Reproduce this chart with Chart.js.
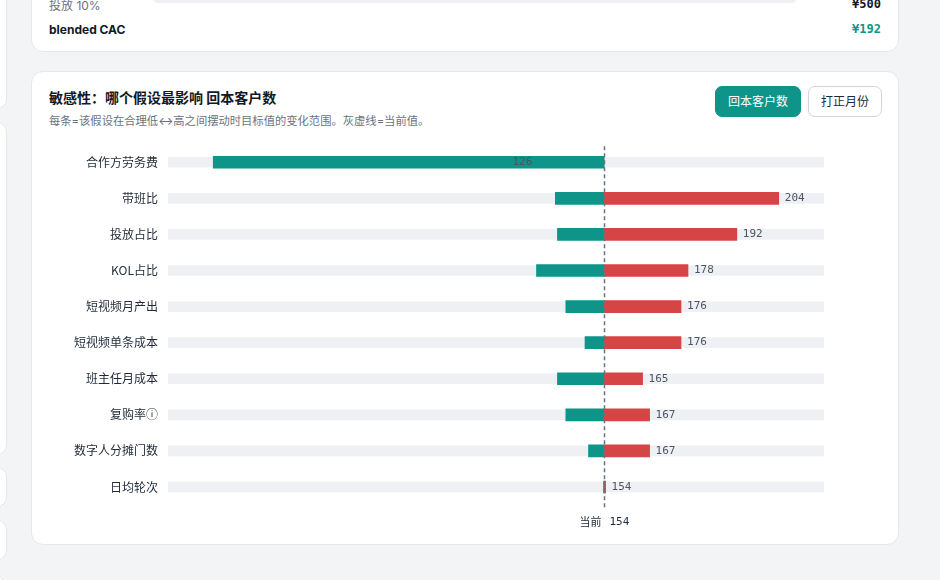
<!DOCTYPE html>
<html>
<head>
<meta charset="utf-8">
<script src="https://cdn.jsdelivr.net/npm/chart.js@4.4.1/dist/chart.umd.min.js"></script>
<style>
  * { box-sizing: border-box; }
  body { margin: 0; width: 940px; height: 580px; overflow: hidden; background: #f3f4f6;
         font-family: Inter, "Noto Sans CJK SC", "Noto Sans", sans-serif; position: relative; }
  .side { position: absolute; left: -20px; width: 27px; background: #fff; border: 1px solid #e5e7eb; border-radius: 10px; }
  .card { position: absolute; left: 31px; width: 868px; background: #fff; border: 1px solid #e5e7eb; border-radius: 12px; }
  .row { position: absolute; left: 17px; right: 17px; font-size: 12px; }
  .mono { font-family: "DejaVu Sans Mono", monospace; font-weight: bold; position: absolute; right: 0; }
  h3 { position: absolute; left: 17px; top: 15px; margin: 0; font-size: 14px; font-weight: 700; color: #111827; }
  .sub { position: absolute; left: 17px; top: 40px; font-size: 11.3px; color: #6b7280; }
  .btn { position: absolute; top: 14px; height: 31px; border-radius: 7px; font-size: 12px; line-height: 29px; text-align: center; }
</style>
</head>
<body>
<div class="side" style="top:-20px;height:129px"></div>
<div class="side" style="top:122px;height:333px"></div>
<div class="side" style="top:467px;height:40px"></div>
<div class="side" style="top:520px;height:40px"></div>
<div class="side" style="top:577px;height:40px"></div>

<div class="card" style="top:-40px;height:92px">
  <div class="row" style="top:35px;height:16px;color:#6b7280">投放 10%
    <div style="position:absolute;left:105px;width:642px;top:-2px;height:9px;border-radius:4px;background:#eef0f4"></div>
    <span class="mono" style="color:#111827;top:1px">¥500</span>
  </div>
  <div class="row" style="top:61px;height:16px;font-weight:700;color:#111827">blended CAC
    <span class="mono" style="color:#0e9488;top:0">¥192</span>
  </div>
</div>

<div class="card" style="top:71px;height:474px">
  <h3>敏感性：哪个假设最影响 回本客户数</h3>
  <div class="sub">每条=该假设在合理低↔高之间摆动时目标值的变化范围。灰虚线=当前值。</div>
  <div class="btn" style="left:683px;width:86px;background:#0e9488;color:#fff;border:1px solid #0e9488">回本客户数</div>
  <div class="btn" style="left:776px;width:74px;background:#fff;color:#1f2937;border:1px solid #d1d5db">打正月份</div>
  <canvas id="tornado" width="776" height="410" style="position:absolute;left:16px;top:55px"></canvas>
</div>

<script>
const labels = ['合作方劳务费', '带班比', '投放占比', 'KOL占比', '短视频月产出', '短视频单条成本', '班主任月成本', '复购率ⓘ', '数字人分摊门数', '日均轮次'];
const lowVals = [42, 140, 140.6, 134.6, 143, 148.5, 140.6, 143, 149.5, 153.8];
const highVals = [126, 204, 192, 178, 176, 176, 165, 167, 167, 154.4];
const current = 154;

const TEAL = '#0e9488';
const RED = '#d64545';

const mins = labels.map((_, i) => Math.min(lowVals[i], highVals[i], current));
const maxs = labels.map((_, i) => Math.max(lowVals[i], highVals[i]));
const lo = Math.min(...mins), hi = Math.max(...maxs, current);
const pad = (hi - lo) * 0.08;
const xMin = lo - pad, xMax = hi + pad;

// gray dashed line + "当前" label + value labels
const overlay = {
    id: 'overlay',
    afterDatasetsDraw(chart) {
        const { ctx, scales } = chart;
        const x = Math.round(scales.x.getPixelForValue(current)) + 0.5;
        const top = scales.y.getPixelForValue(0) - 16;
        const bottom = scales.y.getPixelForValue(labels.length - 1) + 22;
        ctx.save();
        ctx.strokeStyle = '#6b7280';
        ctx.lineWidth = 1.5;
        ctx.setLineDash([4, 3]);
        ctx.beginPath();
        ctx.moveTo(x, top);
        ctx.lineTo(x, bottom);
        ctx.stroke();
        ctx.setLineDash([]);

        ctx.font = '11px "DejaVu Sans Mono", monospace';
        ctx.fillStyle = '#4b5563';
        ctx.textBaseline = 'middle';
        ctx.textAlign = 'left';
        labels.forEach((_, i) => {
            const y = scales.y.getPixelForValue(i);
            const px = scales.x.getPixelForValue(maxs[i]) + 6;
            ctx.fillText(Math.round(highVals[i]), px, y);
        });

        ctx.fillStyle = '#1f2937';
        ctx.font = '11px "Noto Sans CJK SC", sans-serif';
        ctx.textAlign = 'right';
        ctx.fillText('当前', x - 3, bottom + 13);
        ctx.font = '11px "DejaVu Sans Mono", monospace';
        ctx.textAlign = 'left';
        ctx.fillText(String(current), x + 5, bottom + 13);
        ctx.restore();
    }
};

new Chart(document.getElementById('tornado'), {
    type: 'bar',
    data: {
        labels: labels,
        datasets: [
            {
                data: labels.map(() => [xMin, xMax]),
                backgroundColor: '#eef0f4',
                barThickness: 10,
                grouped: false,
                order: 3
            },
            {
                data: labels.map((_, i) => [mins[i], current]),
                backgroundColor: TEAL,
                barThickness: 12,
                grouped: false,
                order: 2
            },
            {
                data: labels.map((_, i) => maxs[i] > current ? [current, maxs[i]] : null),
                backgroundColor: RED,
                barThickness: 12,
                grouped: false,
                order: 1
            }
        ]
    },
    options: {
        indexAxis: 'y',
        responsive: false,
        animation: false,
        layout: { padding: { top: 0, bottom: 32, right: 0 } },
        plugins: { legend: { display: false }, tooltip: { enabled: false } },
        scales: {
            x: { display: false, min: xMin, max: xMax },
            y: {
                afterFit: s => { s.width = 120; },
                grid: { display: false, drawTicks: false },
                border: { display: false },
                ticks: { color: '#1f2937', padding: 10, font: { size: 12, family: '"Noto Sans CJK SC", sans-serif' } }
            }
        }
    },
    plugins: [overlay]
});
</script>
</body>
</html>
